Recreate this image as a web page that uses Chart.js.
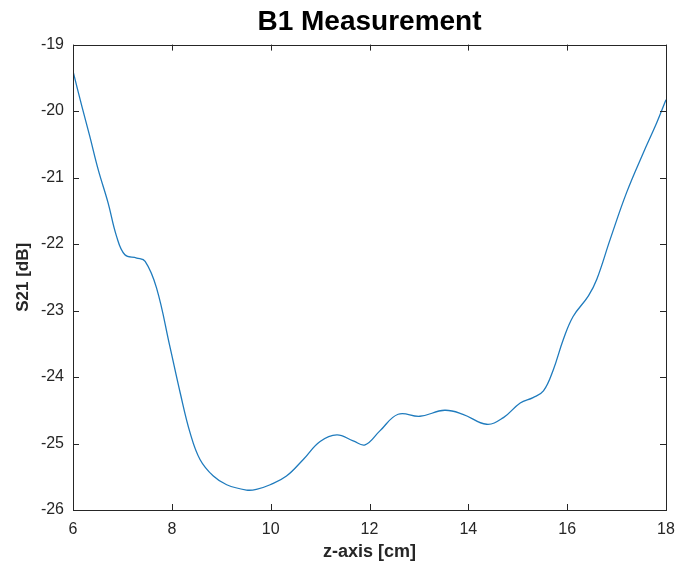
<!DOCTYPE html>
<html>
<head>
	<meta charset="utf-8">
	<script src="https://cdn.jsdelivr.net/npm/chart.js"></script>
	<title>B1 Measurement</title>
	<style type="text/css">
		html, body { margin: 0; padding: 0; background: #fff; }
		#wrap { width: 678px; height: 571px; }
	</style>
</head>
<body>
<div id="wrap">
	<canvas id="myChart" width="678" height="571"></canvas>
</div>
<script>
  var zPos = [6.00, 6.18, 6.34, 6.51, 6.71, 6.88, 7.05, 7.29, 7.46, 7.69,
    7.96, 8.17, 8.37, 8.57, 8.84, 9.11, 9.51, 9.71, 9.99, 10.32,
    10.66, 11.00, 11.34, 11.67, 11.91, 12.21, 12.58, 13.02, 13.52, 13.89,
    14.37, 14.71, 15.05, 15.31, 15.52, 15.72, 15.92, 16.12, 16.43, 16.60,
    16.87, 17.20, 17.54, 17.81, 18.00];
  var s21 = [-19.40, -19.93, -20.38, -20.88, -21.38, -21.88, -22.16, -22.21, -22.26, -22.66,
    -23.54, -24.24, -24.84, -25.24, -25.49, -25.62, -25.70, -25.69, -25.62, -25.49,
    -25.24, -24.97, -24.87, -24.96, -25.02, -24.81, -24.56, -24.59, -24.50, -24.56,
    -24.71, -24.61, -24.39, -24.31, -24.21, -23.89, -23.44, -23.09, -22.78, -22.53,
    -21.93, -21.23, -20.63, -20.18, -19.83];
  var xTicks = [6, 8, 10, 12, 14, 16, 18];
  var yTicks = [-26, -25, -24, -23, -22, -21, -20, -19];

  var pts = [];
  zPos.forEach(function(z, i){
    pts.push({x: z, y: s21[i]});
  });

  // matlab style box with inward ticks
  const boxTicks = {
    id: 'boxTicks',
    afterDatasetsDraw(chart){
      const ctx = chart.ctx;
      const a = chart.chartArea;
      const xs = chart.scales.x, ys = chart.scales.y;
      const len = 6;
      ctx.save();
      ctx.strokeStyle = '#262626';
      ctx.lineWidth = 1;
      ctx.beginPath();
      xTicks.forEach(function(v){
        const px = Math.round(xs.getPixelForValue(v)) + 0.5;
        ctx.moveTo(px, a.bottom); ctx.lineTo(px, a.bottom - len);
        ctx.moveTo(px, a.top); ctx.lineTo(px, a.top + len);
      });
      yTicks.forEach(function(v){
        const py = Math.round(ys.getPixelForValue(v)) + 0.5;
        ctx.moveTo(a.left, py); ctx.lineTo(a.left + len, py);
        ctx.moveTo(a.right, py); ctx.lineTo(a.right - len, py);
      });
      ctx.stroke();
      ctx.strokeRect(Math.round(a.left) + 0.5, Math.round(a.top) + 0.5,
        Math.round(a.right - a.left), Math.round(a.bottom - a.top));
      ctx.restore();
    }
  };

  const config = {
    type: 'scatter',
    data: {
      datasets: [{
        label: 'S21',
        data: pts,
        showLine: true,
        borderColor: '#1f7bbd',
        borderWidth: 1.3,
        pointRadius: 0,
        tension: 0.4,
        fill: false
      }]
    },
    options: {
      responsive: false,
      animation: false,
      layout: { padding: { left: 0, right: 12, top: 0, bottom: 0 } },
      plugins: {
        legend: { display: false },
        tooltip: { enabled: false },
        title: {
          display: true,
          fullSize: false,
          text: 'B1 Measurement',
          color: '#000',
          font: { family: 'Liberation Sans', size: 28, weight: 'bold' },
          padding: { top: 5, bottom: 6 }
        }
      },
      scales: {
        x: {
          type: 'linear',
          min: 6, max: 18,
          afterBuildTicks: function(s){ s.ticks = xTicks.map(function(v){ return {value: v}; }); },
          afterFit: function(s){ s.height = 61; s.paddingLeft = 0; s.paddingRight = 0; },
          grid: { display: false, drawTicks: false },
          border: { display: false },
          ticks: {
            padding: 10,
            color: '#262626',
            maxRotation: 0,
            font: { family: 'Liberation Sans', size: 16 }
          },
          title: {
            display: true,
            text: 'z-axis [cm]',
            color: '#262626',
            font: { family: 'Liberation Sans', size: 18, weight: 'bold' },
            padding: { top: 0, bottom: 8 }
          }
        },
        y: {
          type: 'linear',
          min: -26, max: -19,
          afterBuildTicks: function(s){ s.ticks = yTicks.map(function(v){ return {value: v}; }); },
          afterFit: function(s){ s.width = 73; s.paddingTop = 0; s.paddingBottom = 0; },
          grid: { display: false, drawTicks: false },
          border: { display: false },
          ticks: {
            padding: 9,
            color: '#262626',
            font: { family: 'Liberation Sans', size: 16 }
          },
          title: {
            display: true,
            text: 'S21 [dB]',
            color: '#262626',
            font: { family: 'Liberation Sans', size: 17, weight: 'bold' },
            padding: { top: 13, bottom: 0 }
          }
        }
      }
    },
    plugins: [boxTicks]
  };

  const myChart = new Chart(document.getElementById('myChart'), config);
</script>
</body>
</html>
